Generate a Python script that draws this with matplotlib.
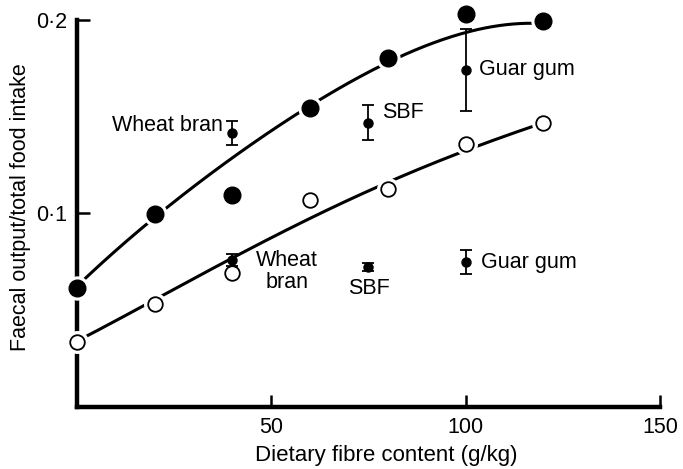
import matplotlib
matplotlib.use('Agg')
import matplotlib.pyplot as plt
import numpy as np

plt.rcParams['font.family'] = ['Liberation Sans', 'DejaVu Sans']

# Main series (g/kg dietary fibre)
fibre = [0, 20, 40, 60, 80, 100, 120]
filled_vals = [0.0613, 0.0995, 0.1093, 0.1547, 0.1806, 0.2030, 0.1996]
open_vals = [0.0337, 0.0531, 0.0692, 0.1070, 0.1125, 0.1358, 0.1467]

# Fitted curves
curve_x = [0, 10, 20, 30, 40, 50, 60, 70, 80, 90, 100, 110, 120]
upper_curve = [0.062, 0.081, 0.099, 0.114, 0.128, 0.142, 0.155, 0.168, 0.180, 0.187, 0.193, 0.196, 0.199]
lower_curve = [0.034, 0.045, 0.055, 0.066, 0.077, 0.088, 0.098, 0.107, 0.1155, 0.124, 0.133, 0.1405, 0.1465]

# Supplemented diets (mean ± error)
supp_names = ['Wheat bran', 'SBF', 'Guar gum']
supp_x = [40, 75, 100]
supp_upper = [0.1416, 0.1470, 0.1742]
supp_upper_err = [0.0063, 0.0092, 0.0213]
supp_lower = [0.0761, 0.0723, 0.0749]
supp_lower_err = [0.0030, 0.0020, 0.0063]

x_ticks = [50, 100, 150]
x_ticklabels = ['50', '100', '150']
y_ticks = [0.1, 0.2]
y_ticklabels = ['0\u00b71', '0\u00b72']

fig = plt.figure(figsize=(6.83, 4.69), dpi=100)
ax = fig.add_axes([0.1127, 0.1322, 0.8536, 0.8252])

# smooth curves
xs = np.linspace(0, 120, 200)
for cy in (upper_curve, lower_curve):
    p = np.polyfit(curve_x, cy, 4)
    ax.plot(xs, np.polyval(p, xs), color='black', lw=2.2, zorder=2,
            solid_capstyle='butt', clip_on=False)

# white halos around markers
ax.plot(fibre, filled_vals, 'o', ms=16.5, color='white', mec='white', zorder=3, clip_on=False)
ax.plot(fibre, open_vals, 'o', ms=15.5, color='white', mec='white', zorder=3, clip_on=False)
ax.plot(fibre, filled_vals, 'o', ms=12, color='black', mec='black', zorder=4, clip_on=False)
ax.plot(fibre, open_vals, 'o', ms=10.5, mfc='white', mec='black', mew=1.3, zorder=4, clip_on=False)

# supplemented diets
ax.errorbar(supp_x, supp_upper, yerr=supp_upper_err, fmt='o', ms=6.5, color='black',
            ecolor='black', elinewidth=1.3, capsize=4, capthick=1.3, zorder=5)
ax.errorbar(supp_x, supp_lower, yerr=supp_lower_err, fmt='o', ms=6.5, color='black',
            ecolor='black', elinewidth=1.3, capsize=4, capthick=1.3, zorder=5)

fs = 15.5
ax.text(37.5, 0.1455, supp_names[0], ha='right', va='center', fontsize=fs)
ax.text(78.5, 0.1522, supp_names[1], ha='left', va='center', fontsize=fs)
ax.text(103.5, 0.1746, supp_names[2], ha='left', va='center', fontsize=fs)
ax.text(54, 0.070, 'Wheat\nbran', ha='center', va='center', fontsize=fs, linespacing=1.05)
ax.text(75, 0.0612, supp_names[1], ha='center', va='center', fontsize=fs)
ax.text(104, 0.0749, supp_names[2], ha='left', va='center', fontsize=fs)

ax.set_xlim(0, 150)
ax.set_ylim(0, 0.2)
ax.set_xticks(x_ticks)
ax.set_xticklabels(x_ticklabels)
ax.set_yticks(y_ticks)
ax.set_yticklabels(y_ticklabels)
ax.tick_params(direction='in', length=9, width=1.8, labelsize=fs, pad=7)
for s in ('top', 'right'):
    ax.spines[s].set_visible(False)
for s in ('left', 'bottom'):
    ax.spines[s].set_linewidth(3.2)
    ax.spines[s].set_capstyle('projecting')
    ax.spines[s].set_zorder(2.5)

ax.set_xlabel('Dietary fibre content (g/kg)', fontsize=16, labelpad=5, x=0.53)
ax.set_ylabel('Faecal output/total food intake', fontsize=fs, labelpad=4, y=0.517)

fig.savefig('out.png', dpi=100)
